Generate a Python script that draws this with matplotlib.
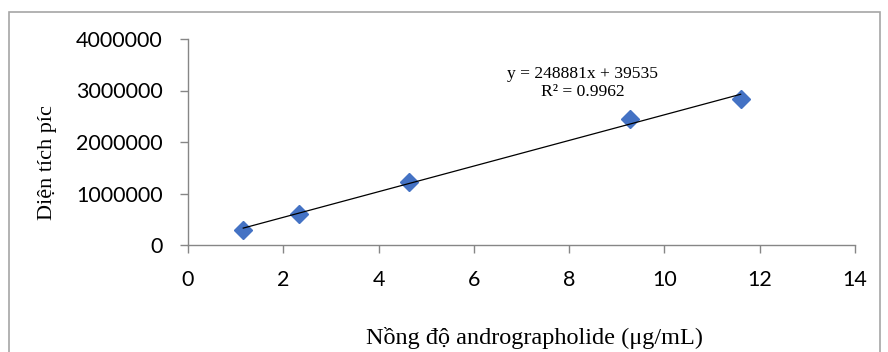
import matplotlib.pyplot as plt
from matplotlib.patches import Rectangle
import numpy as np

# nồng độ (µg/mL) và diện tích píc
conc = [1.16, 2.32, 4.64, 9.28, 11.6]
area = [300000, 610000, 1220000, 2450000, 2840000]
slope = 248881
intercept = 39535
r2 = 0.9962

x_ticks = [0, 2, 4, 6, 8, 10, 12, 14]
y_ticks = [0, 1000000, 2000000, 3000000, 4000000]

fig = plt.figure(figsize=(8.88, 3.52), dpi=100)
ax = fig.add_axes([188 / 888, 1 - 245 / 352, (855 - 188) / 888, (245 - 39) / 352])

# khung ngoài kiểu Excel
fig.patches.append(Rectangle((9 / 888, -0.1), (880 - 9) / 888, 1.1 - 12 / 352,
                             transform=fig.transFigure, fill=False,
                             edgecolor='#a6a6a6', linewidth=1.2))

ax.plot(conc, area, linestyle='none', marker='D', markersize=9,
        color='#4472c4', zorder=2)
xs = np.array([min(conc), max(conc)])
ax.plot(xs, slope * xs + intercept, color='black', linewidth=0.9, zorder=3)

ax.text(8.28, 3150000, f'y = {slope}x + {intercept}\nR² = {r2}',
        ha='center', va='center', multialignment='center',
        family='Liberation Serif', fontsize=12.6, linespacing=1.15)

ax.set_xlim(0, 14)
ax.set_ylim(0, 4000000)
ax.set_xticks(x_ticks)
ax.set_yticks(y_ticks)
ax.set_xticklabels([str(t) for t in x_ticks], family='Lato', fontsize=15.5)
ax.set_yticklabels([str(t) for t in y_ticks], family='Lato', fontsize=15.5)

for s in ['top', 'right']:
    ax.spines[s].set_visible(False)
for s in ['left', 'bottom']:
    ax.spines[s].set_color('#868686')
    ax.spines[s].set_linewidth(1)
ax.tick_params(axis='both', color='#868686', length=5.8, width=1)
ax.tick_params(axis='x', pad=12)
ax.tick_params(axis='y', pad=12.5)

ax.set_xlabel('Nồng độ andrographolide (μg/mL)', family='Liberation Serif',
              fontsize=17.5)
ax.set_ylabel('Diện tích píc', family='Liberation Serif', fontsize=16)
ax.xaxis.set_label_coords(0.519, -0.40)
ax.yaxis.set_label_coords(-0.211, 0.398)
ax.yaxis.label.set_va('center')

fig.savefig('out.png', dpi=100)
